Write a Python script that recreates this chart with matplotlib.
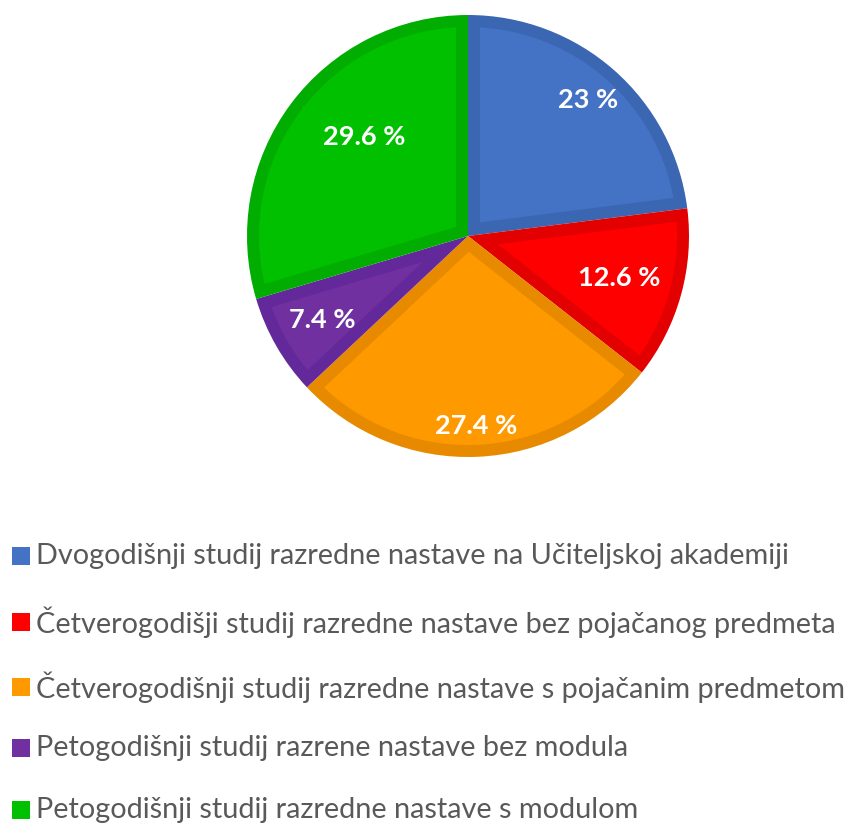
import matplotlib.pyplot as plt
import numpy as np
from matplotlib.patches import Rectangle, Polygon

# data
categories = [
    "Dvogodišnji studij razredne nastave na Učiteljskoj akademiji",
    "Četverogodišji studij razredne nastave bez pojačanog predmeta",
    "Četverogodišnji studij razredne nastave s pojačanim predmetom",
    "Petogodišnji studij razrene nastave bez modula",
    "Petogodišnji studij razredne nastave s modulom",
]
shares = [23, 12.6, 27.4, 7.4, 29.6]
value_labels = ["23 %", "12.6 %", "27.4 %", "7.4 %", "29.6 %"]

colors = ["#4472C4", "#FF0000", "#FF9900", "#7030A0", "#00C000"]
edge_colors = ["#3A66B2", "#E30000", "#E88A00", "#63289A", "#00AD00"]
label_dist = [0.82, 0.71, 0.86, 0.76, 0.65]
label_shift = [0, 0, 0, 0, -7]

W, H = 856, 825
fig = plt.figure(figsize=(W / 100, H / 100), dpi=100)

cx, cy, r = 468, 236, 221
ax = fig.add_axes([(cx - r) / W, (H - cy - r) / H, 2 * r / W, 2 * r / H])
# darker base = the border, lighter inset on top
wedges, _ = ax.pie(shares, colors=edge_colors, startangle=90, counterclock=False,
                   radius=1, wedgeprops=dict(linewidth=0))
b = 12 / r
for i, w in enumerate(wedges):
    t1, t2 = np.deg2rad(w.theta1), np.deg2rad(w.theta2)
    half = (t2 - t1) / 2
    mid = (t1 + t2) / 2
    apex = b / np.sin(half)
    rr = 1 - b
    da = np.arcsin(b / rr)
    arc = np.linspace(t1 + da, t2 - da, 80)
    pts = [(apex * np.cos(mid), apex * np.sin(mid))]
    pts += list(zip(rr * np.cos(arc), rr * np.sin(arc)))
    ax.add_patch(Polygon(pts, closed=True, facecolor=colors[i], edgecolor="none"))
    th = mid + np.deg2rad(label_shift[i])
    d = label_dist[i]
    ax.text(d * np.cos(th), d * np.sin(th), value_labels[i], color="white",
            fontsize=19.5, fontweight="bold", family="Lato",
            ha="center", va="center")
ax.set_xlim(-1, 1)
ax.set_ylim(-1, 1)
ax.axis("off")

# legend
rows = [556, 622, 687, 748, 810]
for lab, col, yy in zip(categories, colors, rows):
    fig.patches.append(Rectangle((12 / W, (H - yy - 9) / H), 18 / W, 18 / H,
                                 transform=fig.transFigure, facecolor=col,
                                 edgecolor="none"))
    fig.text(36 / W, (H - yy) / H, lab, fontsize=20.8, family="Lato",
             color="#595959", ha="left", va="center")

fig.savefig("out.png", dpi=100)
